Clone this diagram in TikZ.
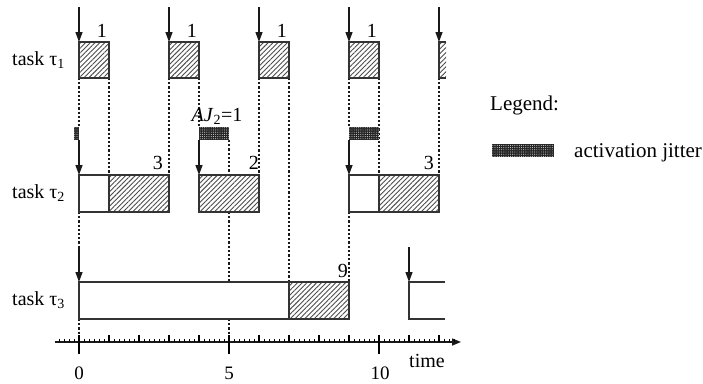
\documentclass[tikz,border=0pt]{standalone}
\usepackage{fontspec}
\setmainfont{Liberation Serif}
\usetikzlibrary{arrows.meta,patterns.meta}
\begin{document}
\begin{tikzpicture}[x=1pt,y=-1pt,
  box/.style={draw=black!80, line width=1.4pt},
  hatch/.style={box, pattern={Lines[angle=45,distance=3.4pt,line width=0.9pt]}, pattern color=black!70},
  jit/.style={fill=black!85, postaction={pattern={Dots[distance=2.2pt,radius=0.45pt]}, pattern color=white}},
  rel/.style={line width=1.3pt, draw=black!90, -{Triangle[length=10pt,width=7pt]}},
  dotl/.style={line width=1.3pt, dash pattern=on 2.2pt off 2pt, draw=black!90},
  lbl/.style={font=\fontsize{20}{20}\selectfont, inner sep=0pt},
  num/.style={font=\fontsize{19}{19}\selectfont, inner sep=0pt},
  leg/.style={font=\fontsize{21}{21}\selectfont, inner sep=0pt},
]
\useasboundingbox (0,0) rectangle (703,383);
% dotted guide lines
\draw[dotl] (79,78) -- (79,127);
\draw[dotl] (79,212) -- (79,247);
\draw[dotl] (79,319) -- (79,342);
\draw[dotl] (109,78) -- (109,175);
\draw[dotl] (169,78) -- (169,175);
\draw[dotl] (199,78) -- (199,127);
\draw[dotl] (229,140) -- (229,175);
\draw[dotl] (229,212) -- (229,282);
\draw[dotl] (229,319) -- (229,342);
\draw[dotl] (259,78) -- (259,175);
\draw[dotl] (289,78) -- (289,282);
\draw[dotl] (349,78) -- (349,127);
\draw[dotl] (349,212) -- (349,282);
\draw[dotl] (379,78) -- (379,175);
\draw[dotl] (439,78) -- (439,175);
% task 1
\foreach \a in {79,169,259,349} {
  \draw[hatch] (\a,42) rectangle +(30,36);
  \node[lbl, anchor=south east] (one\a) at (\a+28,38) {1};
}
\fill[pattern={Lines[angle=45,distance=3.4pt,line width=0.9pt]}, pattern color=black!70] (439,42) rectangle (446,78);
\draw[box] (446,42) -- (439,42) -- (439,78) -- (446,78);
\foreach \a in {79,169,259,349,439} \draw[rel] (\a,7) -- (\a,42);
\node[lbl, anchor=west] (t1) at (12,60) {task τ\textsubscript{1}};
% task 2
\fill[jit] (73.5,127) rectangle (79,140);
\fill[jit] (199,127) rectangle (229,140);
\fill[jit] (349,127) rectangle (379,140);
\draw[box, fill=white] (79,175) rectangle (109,212);
\draw[hatch] (109,175) rectangle (169,212);
\draw[hatch] (199,175) rectangle (259,212);
\draw[box, fill=white] (349,175) rectangle (379,212);
\draw[hatch] (379,175) rectangle (439,212);
\foreach \a in {79,199,349} \draw[rel] (\a,140) -- (\a,175);
\node[lbl, anchor=south east] (c1) at (163,170) {3};
\node[lbl, anchor=south east] (c2) at (259,170) {2};
\node[lbl, anchor=south east] (c3) at (434,170) {3};
\node[lbl, anchor=base] (aj) at (217,121) {\textit{AJ}\textsubscript{2}=1};
\node[lbl, anchor=west] (t2) at (12,193) {task τ\textsubscript{2}};
% task 3
\draw[box, fill=white] (79,282) rectangle (289,319);
\draw[hatch] (289,282) rectangle (349,319);
\draw[rel] (79,247) -- (79,282);
\draw[rel] (409,247) -- (409,282);
\draw[box] (445,282) -- (409,282) -- (409,319) -- (445,319);
\node[lbl, anchor=south east] (c9) at (348,278) {9};
\node[lbl, anchor=west] (t3) at (12,300) {task τ\textsubscript{3}};
% axis
\draw[line width=1.4pt, draw=black!90, -{Triangle[length=9pt,width=7pt]}] (55,342) -- (461,342);
\foreach \x in {59,64,...,454} \draw[line width=1pt] (\x,342) -- (\x,338.5);
\foreach \x in {79,109,...,439} \draw[line width=1.1pt] (\x,342) -- (\x,335);
\foreach \x in {79,229,379} \draw[line width=1.3pt] (\x,335) -- (\x,354);
\node[num, anchor=base] (n0) at (79,379) {0};
\node[num, anchor=base] (n5) at (229,379) {5};
\node[num, anchor=base] (n10) at (380,379) {10};
\node[lbl] (time) at (427,361) {time};
% legend
\node[leg, anchor=base west] (legend) at (490,110) {Legend:};
\fill[jit] (492,144) rectangle (554,157);
\node[leg, anchor=base west] (ajtext) at (574,157) {activation jitter};
\end{tikzpicture}
\end{document}
